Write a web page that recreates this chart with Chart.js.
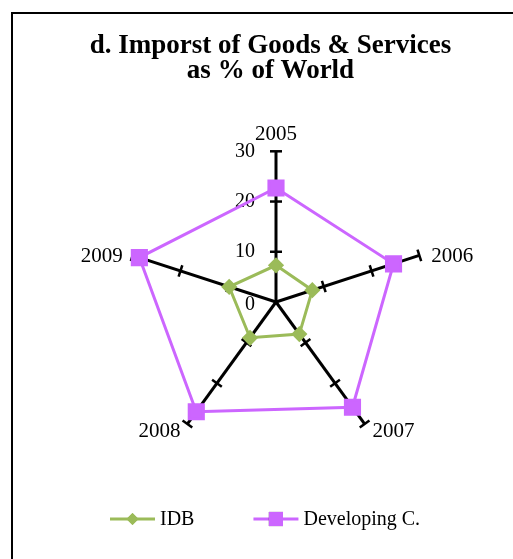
<!DOCTYPE html>
<html>
<head>
<meta charset="utf-8">
<script src="https://cdn.jsdelivr.net/npm/chart.js@4.4.1/dist/chart.umd.min.js"></script>
<style>
  html, body { margin: 0; padding: 0; background: #fff; overflow: hidden; }
  #wrap { position: relative; width: 513px; height: 559px; }
  #frame {
    position: absolute; left: 11px; top: 12px; width: 600px; height: 600px;
    border: 2px solid #000; pointer-events: none;
  }
  canvas { position: absolute; left: 0; top: 0; }
</style>
</head>
<body>
<div id="wrap">
  <canvas id="chart" width="513" height="559"></canvas>
  <div id="frame"></div>
</div>
<script>
// data
const years = ["2005", "2006", "2007", "2008", "2009"];
const idbValues = [7.3, 7.6, 7.9, 8.8, 9.8];
const developingValues = [22.7, 24.6, 25.9, 27, 28.6];
const tickValues = [0, 10, 20, 30];

const FONT = "'Liberation Serif', 'Times New Roman', serif";

// 제목을 살짝 왼쪽으로
const titleShift = {
  id: "titleShift",
  afterLayout(chart) {
    if (chart.titleBlock) {
      chart.titleBlock.left -= 6;
      chart.titleBlock.right -= 6;
    }
  },
};

// 축 위의 눈금 표시 + 숫자 + 연도 라벨
const axisTicks = {
  id: "axisTicks",
  beforeDatasetsDraw(chart) {
    const scale = chart.scales.r;
    const ctx = chart.ctx;
    const cx = scale.xCenter;
    ctx.save();
    ctx.strokeStyle = "#000";
    ctx.lineWidth = 2.5;
    for (let i = 0; i < years.length; i++) {
      const a = scale.getIndexAngle(i) - Math.PI / 2;
      const px = -Math.sin(a), py = Math.cos(a);
      tickValues.forEach((v) => {
        if (v === 0) return;
        const p = scale.getPointPositionForValue(i, v);
        ctx.beginPath();
        ctx.moveTo(p.x - px * 6, p.y - py * 6);
        ctx.lineTo(p.x + px * 6, p.y + py * 6);
        ctx.stroke();
      });
    }
    ctx.fillStyle = "#000";
    ctx.font = "20px " + FONT;
    ctx.textBaseline = "middle";
    ctx.textAlign = "right";
    tickValues.forEach((v) => {
      const p = scale.getPointPositionForValue(0, v);
      ctx.fillText(String(v), p.x - 21, p.y + (v === 0 ? 3 : 0));
    });

    // 연도 라벨 (축 끝 옆에)
    ctx.font = "21px " + FONT;
    years.forEach((label, i) => {
      const p = scale.getPointPositionForValue(i, scale.max);
      const dx = p.x - cx;
      if (Math.abs(dx) < 1) {
        ctx.textAlign = "center";
        ctx.fillText(label, p.x, p.y - 17);
      } else if (p.y < scale.yCenter) {
        ctx.textAlign = dx > 0 ? "left" : "right";
        ctx.fillText(label, p.x + (dx > 0 ? 12 : -10), p.y + 1);
      } else {
        ctx.textAlign = dx > 0 ? "left" : "right";
        ctx.fillText(label, p.x + (dx > 0 ? 8 : -7), p.y + 8);
      }
    });
    ctx.restore();
  },
};

// 선 + 마커 모양 범례
const lineLegend = {
  id: "lineLegend",
  afterDraw(chart) {
    const ctx = chart.ctx;
    const y = 519;
    let x = 110;
    ctx.save();
    ctx.font = "20px " + FONT;
    ctx.textBaseline = "middle";
    ctx.textAlign = "left";
    chart.data.datasets.forEach((ds) => {
      ctx.strokeStyle = ds.borderColor;
      ctx.lineWidth = 3;
      ctx.beginPath();
      ctx.moveTo(x, y);
      ctx.lineTo(x + 45, y);
      ctx.stroke();
      Chart.helpers.drawPoint(ctx, {
        pointStyle: ds.pointStyle,
        radius: ds.pointRadius,
        borderWidth: 0,
      }, x + 22.5, y);
      ctx.fillStyle = ds.pointBackgroundColor;
      ctx.fill();
      ctx.fillStyle = "#000";
      ctx.fillText(ds.label, x + 50, y + 1);
      x += 50 + ctx.measureText(ds.label).width + 59;
    });
    ctx.restore();
  },
};

new Chart(document.getElementById("chart"), {
  type: "radar",
  data: {
    labels: years,
    datasets: [
      {
        label: "IDB",
        data: idbValues,
        borderColor: "#9BBB59",
        backgroundColor: "#9BBB59",
        pointBackgroundColor: "#9BBB59",
        pointBorderColor: "#9BBB59",
        borderWidth: 3,
        pointStyle: "rectRot",
        pointRadius: 6,
        fill: false,
      },
      {
        label: "Developing C.",
        data: developingValues,
        borderColor: "#CC66FF",
        backgroundColor: "#CC66FF",
        pointBackgroundColor: "#CC66FF",
        pointBorderColor: "#CC66FF",
        borderWidth: 3,
        pointStyle: "rect",
        pointRadius: 10,
        fill: false,
      },
    ],
  },
  options: {
    responsive: false,
    animation: false,
    layout: { padding: { left: 46, right: 6, top: 0, bottom: 90 } },
    plugins: {
      legend: { display: false },
      tooltip: { enabled: false },
      title: {
        display: true,
        text: ["d. Imporst of Goods & Services", "as % of World"],
        color: "#000",
        font: { family: FONT, size: 27, weight: "bold", lineHeight: 0.95 },
        padding: { top: 33, bottom: 24 },
      },
    },
    scales: {
      r: {
        min: 0,
        max: 30,
        ticks: { display: false, stepSize: 10 },
        grid: { display: false },
        angleLines: { display: true, color: "#000", lineWidth: 3 },
        pointLabels: {
          // 자리만 잡고 실제 글자는 플러그인에서 그림
          color: "rgba(0,0,0,0)",
          font: { family: FONT, size: 20 },
          padding: 5,
        },
      },
    },
  },
  plugins: [titleShift, axisTicks, lineLegend],
});
</script>
</body>
</html>
